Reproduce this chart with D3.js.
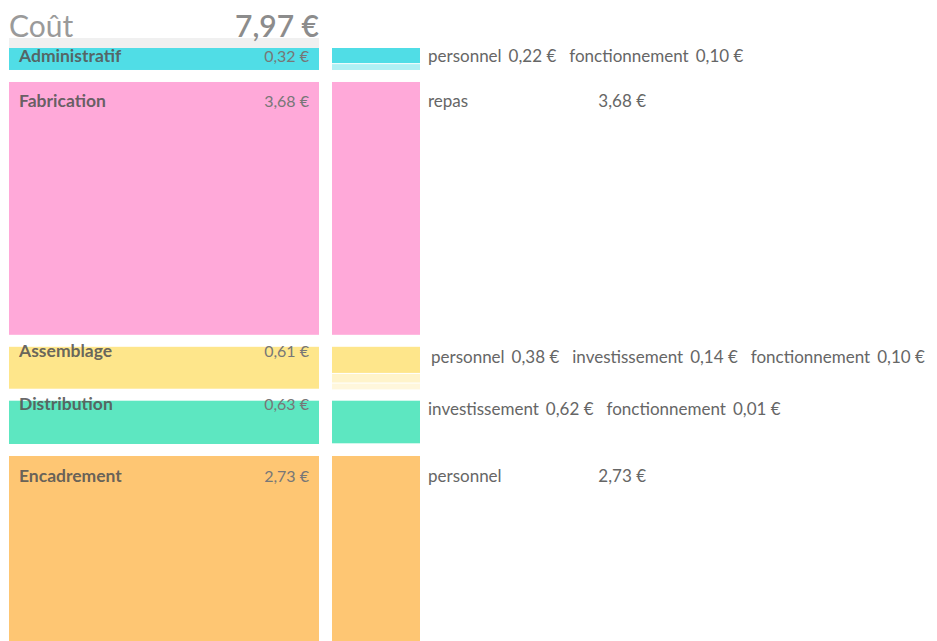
<!DOCTYPE html>
<html>
<head>
<meta charset="utf-8">
<script src="https://cdn.jsdelivr.net/npm/d3@7"></script>
<style>
  body { margin: 0; background: #fff; overflow: hidden; }
  svg { display: block; font-family: "Lato", "Noto Sans", sans-serif; }
</style>
</head>
<body>
<div id="chart"></div>
<script>
// cost breakdown per stage (values in euros)
const categories = ["Administratif", "Fabrication", "Assemblage", "Distribution", "Encadrement"];
const totals = [0.32, 3.68, 0.61, 0.63, 2.73];
const colors = ["#50dde6", "#ffa9d9", "#fee68b", "#5de7c1", "#fec673"];

// sub items of each stage
const subNames = [
  ["personnel", "fonctionnement"],
  ["repas"],
  ["personnel", "investissement", "fonctionnement"],
  ["investissement", "fonctionnement"],
  ["personnel"]
];
const subValues = [
  [0.22, 0.10],
  [3.68],
  [0.38, 0.14, 0.10],
  [0.62, 0.01],
  [2.73]
];
const grandTotal = 7.97;

// layout
const width = 937, height = 641;
const top0 = 48, gap = 12;
const leftX = 9, leftW = 310;
const rightX = 332, rightW = 88;
// label offsets (the video frame catches labels mid-transition)
const labelDy = [14, 25, 10, 9, 26];
const subDy = [14, 25, 16, 14, 26];
const subX = [428, 428, 431, 428, 428];
const subOpacity = [1, 0.45, 0.3];

const fmt = v => d3.format(".2f")(v).replace(".", ",") + " €";

const y = d3.scaleLinear().domain([0, grandTotal]).range([0, grandTotal * 68.7]);

// cumulative tops
let tops = [];
let acc = top0;
totals.forEach((t, i) => {
  tops.push(acc);
  acc += y(t) + gap;
});

const svg = d3.select("#chart").append("svg")
  .attr("width", width)
  .attr("height", height);

// header
svg.append("rect")
  .attr("x", leftX).attr("y", 38)
  .attr("width", leftW).attr("height", 10)
  .attr("fill", "#f0f0f0");

svg.append("text")
  .attr("x", leftX).attr("y", 37)
  .attr("font-size", 30)
  .attr("fill", "#9a9a9a")
  .text("Coût");

svg.append("text")
  .attr("x", leftX + leftW).attr("y", 37)
  .attr("text-anchor", "end")
  .attr("font-size", 30)
  .attr("font-weight", 600)
  .attr("fill", "#8c8c8c")
  .text(fmt(grandTotal));

const rows = svg.selectAll("g.row")
  .data(categories)
  .enter().append("g")
  .attr("class", "row");

// left bars
rows.append("rect")
  .attr("x", leftX)
  .attr("y", (d, i) => tops[i])
  .attr("width", leftW)
  .attr("height", (d, i) => y(totals[i]))
  .attr("fill", (d, i) => colors[i]);

rows.append("text")
  .attr("x", leftX + 10)
  .attr("y", (d, i) => tops[i] + labelDy[i])
  .attr("font-size", 17.5)
  .attr("font-weight", 700)
  .attr("fill", "#555")
  .attr("fill-opacity", 0.9)
  .text(d => d);

rows.append("text")
  .attr("x", leftX + leftW - 10)
  .attr("y", (d, i) => tops[i] + labelDy[i])
  .attr("text-anchor", "end")
  .attr("font-size", 16)
  .attr("fill", "#777")
  .text((d, i) => fmt(totals[i]));

// right stacked bars
rows.each(function (d, i) {
  const g = d3.select(this);
  let yy = tops[i];
  subValues[i].forEach((v, j) => {
    const h = y(v);
    g.append("rect")
      .attr("x", rightX)
      .attr("y", yy + (j > 0 ? 1 : 0))
      .attr("width", rightW)
      .attr("height", Math.max(0, h - (j > 0 ? 1 : 0)))
      .attr("fill", colors[i])
      .attr("fill-opacity", subOpacity[j]);
    yy += h;
  });

  const t = g.append("text")
    .attr("x", subX[i])
    .attr("y", tops[i] + subDy[i])
    .attr("font-size", 17)
    .attr("fill", "#666");

  if (subNames[i].length === 1) {
    t.text(subNames[i][0]);
    g.append("text")
      .attr("x", 646)
      .attr("y", tops[i] + subDy[i])
      .attr("text-anchor", "end")
      .attr("font-size", 17)
      .attr("fill", "#666")
      .text(fmt(subValues[i][0]));
  } else {
    subNames[i].forEach((n, j) => {
      t.append("tspan").attr("dx", j > 0 ? 13 : 0).text(n);
      t.append("tspan").attr("dx", 7).text(fmt(subValues[i][j]));
    });
  }
});
</script>
</body>
</html>
